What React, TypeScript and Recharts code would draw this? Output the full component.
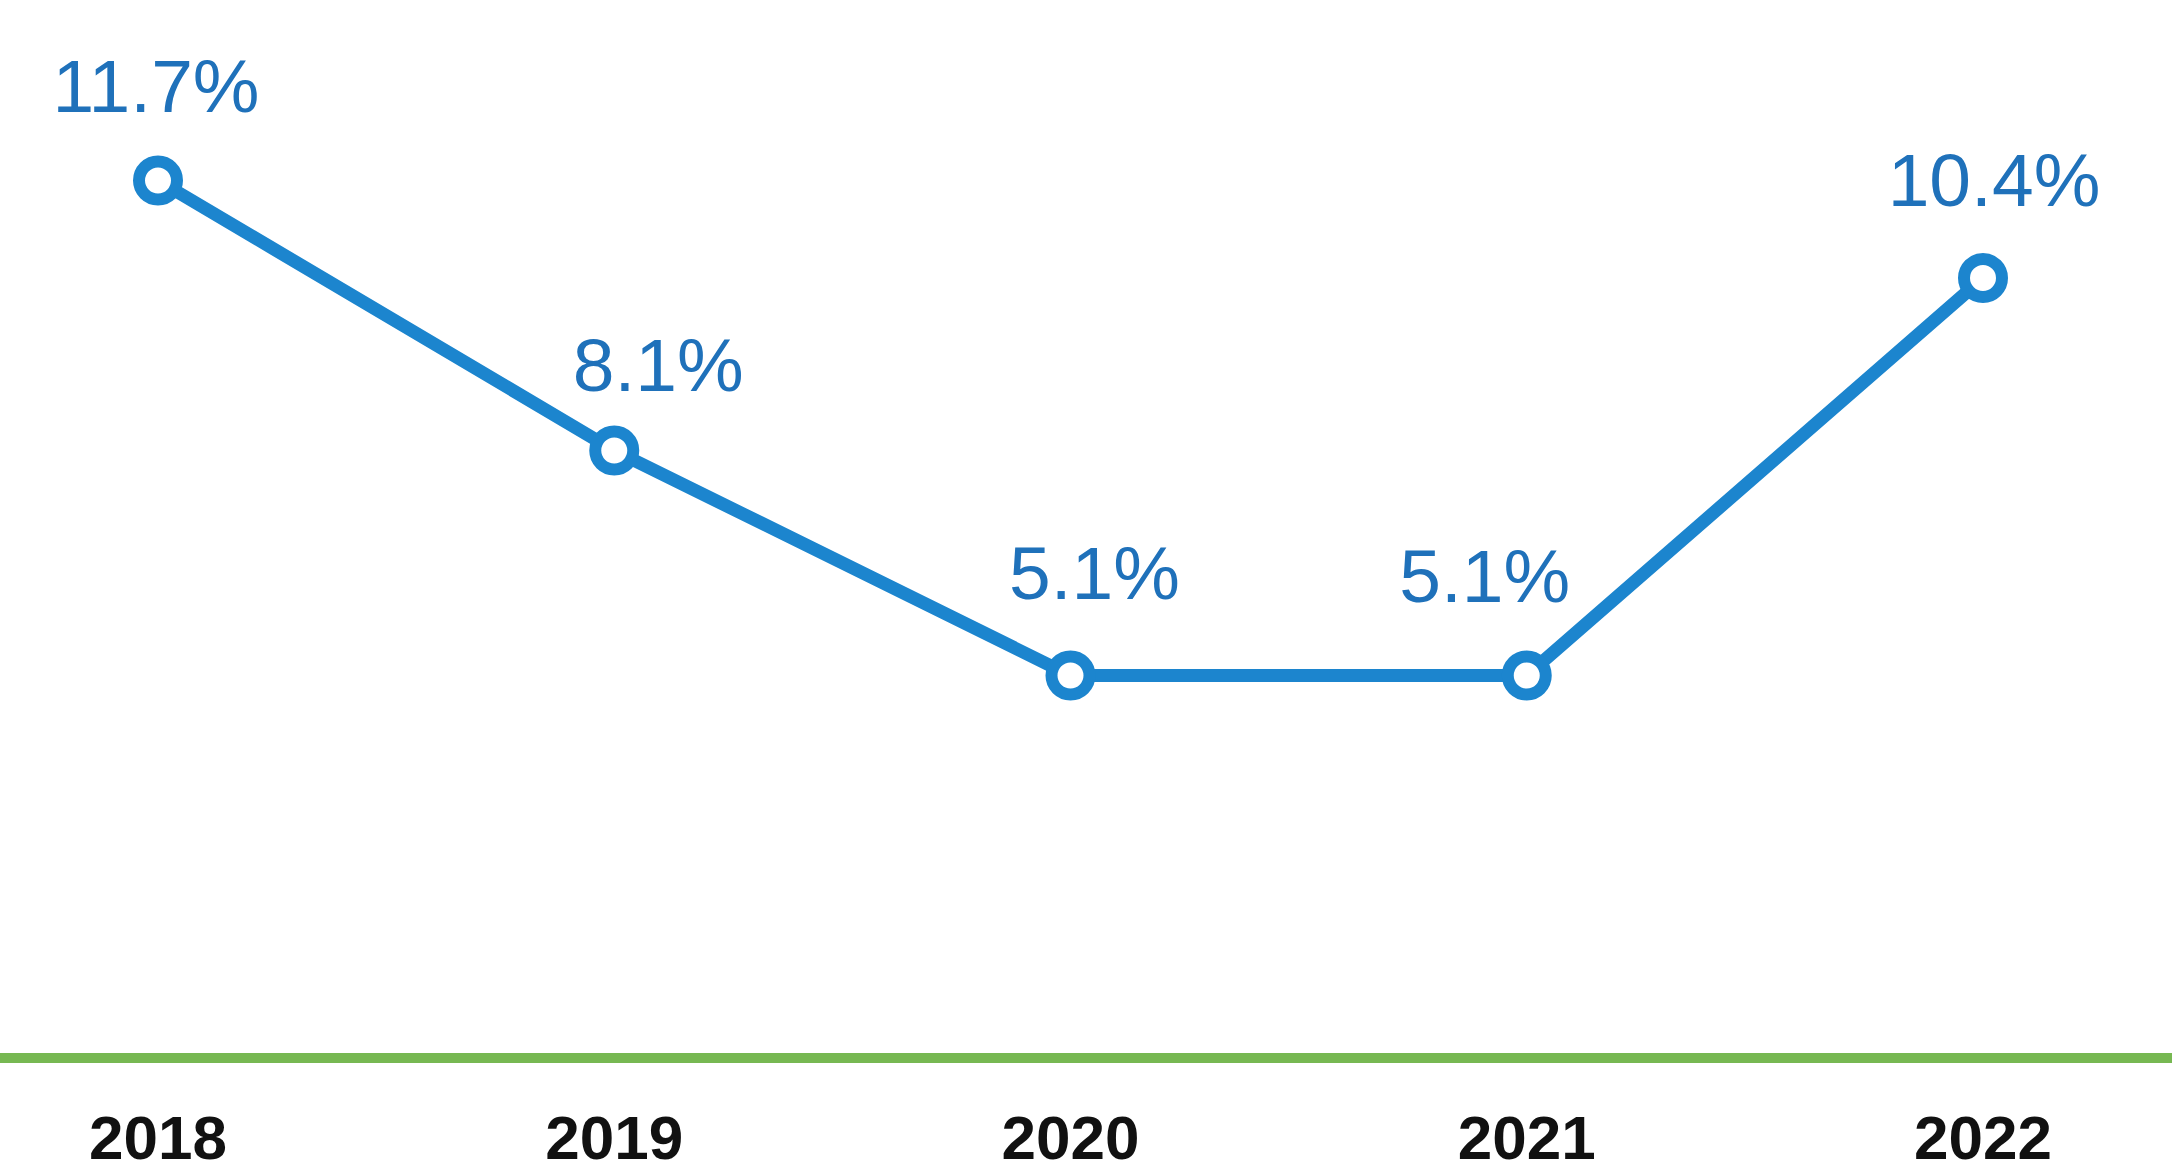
import React from 'react';
import { LineChart, Line, XAxis, YAxis, LabelList } from 'recharts';

// ---- data ----
const years = ['2018', '2019', '2020', '2021', '2022'];
const growthRates = [11.7, 8.1, 5.1, 5.1, 10.4];
const valueLabels = ['11.7%', '8.1%', '5.1%', '5.1%', '10.4%'];

// ---- label styling (offsets relative to each point) ----
const LABEL_DX = [-2, 44, 24, -42, 11];
const LABEL_RAISE = [69, 60, 77, 74, 72];

const LINE_COLOR = '#1C85CE';
const TEXT_COLOR = '#1F71BA';
const AXIS_COLOR = '#77B852';
const FONT = 'Arial, "Liberation Sans", Helvetica, sans-serif';

const data = years.map((year, i) => ({ year, rate: growthRates[i], label: valueLabels[i] }));

const renderDot = (props: any) => {
  const { cx, cy, index } = props;
  return (
    <circle
      key={`dot-${index}`}
      cx={cx}
      cy={cy}
      r={19}
      fill="#ffffff"
      stroke={LINE_COLOR}
      strokeWidth={12}
    />
  );
};

const renderLabel = (props: any) => {
  const { x, y, index, value } = props;
  const i = typeof index === 'number' ? index : 0;
  return (
    <text
      key={`lbl-${i}`}
      x={x + LABEL_DX[i]}
      y={y - LABEL_RAISE[i]}
      textAnchor="middle"
      fontSize={75}
      fontFamily={FONT}
      fill={TEXT_COLOR}
    >
      {value}
    </text>
  );
};

export default function App() {
  return (
    <div style={{ width: 2172, height: 1171, background: '#ffffff' }}>
      <style>{'body{margin:0;background:#fff;}'}</style>
      <LineChart
        width={2172}
        height={1171}
        data={data}
        margin={{ top: 8, right: 0, bottom: 0, left: 0 }}
      >
        <XAxis
          dataKey="year"
          height={113}
          padding={{ left: 158, right: 189 }}
          axisLine={{ stroke: AXIS_COLOR, strokeWidth: 10 }}
          tickLine={false}
          tickSize={0}
          tickMargin={57}
          tick={{ fontSize: 62, fontWeight: 'bold', fill: '#111111', fontFamily: FONT }}
          interval={0}
        />
        <YAxis hide domain={[0, 14]} />
        <Line
          type="linear"
          dataKey="rate"
          stroke={LINE_COLOR}
          strokeWidth={13}
          dot={renderDot}
          activeDot={false}
          isAnimationActive={false}
        >
          <LabelList dataKey="label" content={renderLabel} />
        </Line>
      </LineChart>
    </div>
  );
}
